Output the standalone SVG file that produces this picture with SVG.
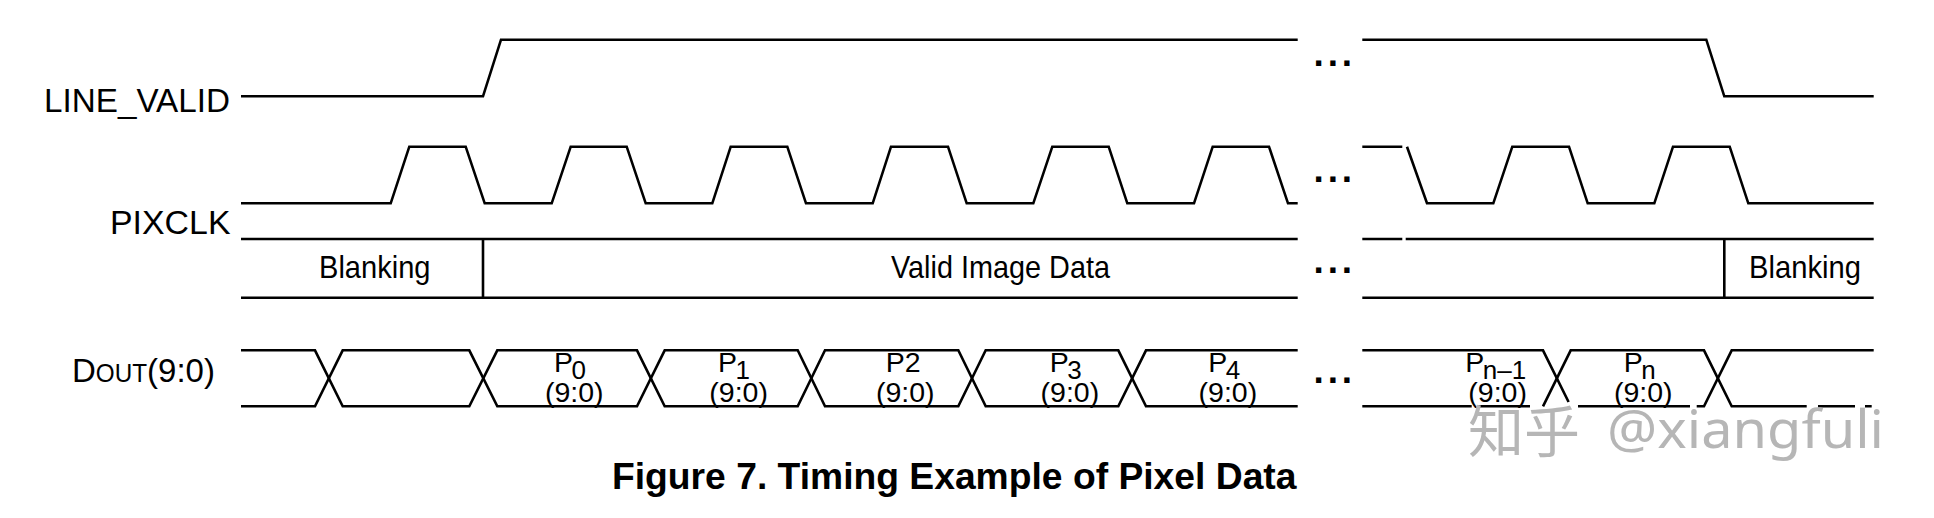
<svg xmlns="http://www.w3.org/2000/svg" width="1934" height="518" viewBox="0 0 1934 518">
<style>
.w{fill:none;stroke:#000;stroke-width:2.6;stroke-linejoin:miter}
.t{font-family:"Liberation Sans",Arial,sans-serif;fill:#000}
.l{font-size:33.9px}
.b{font-size:30.5px}
.d{font-size:28.5px}
.s{font-size:26px}
.dots{font-family:"Liberation Sans",Arial,sans-serif;font-weight:bold;font-size:37px;letter-spacing:3.9px;fill:#000}
.wm{fill:#b6b6b6}
</style>
<rect width="1934" height="518" fill="#fff"/>
<g id="connectors">
<g id="line-valid-wave">
<path class="w" d="M241 96.3H483L501 39.7H1297.7"/>
<path class="w" d="M1362.3 39.7H1706.3L1724.3 96.3H1873.7"/>
</g>
<g id="pixclk-wave">
<path class="w" d="M241 203.3H390.7L409.3 146.7H465.7L484.7 203.3H551.7L570.7 146.7H626.7L645.7 203.3H712.3L730.7 146.7H787.3L806 203.3H872.7L891 146.7H948L966.7 203.3H1033.3L1052.3 146.7H1108.7L1127.3 203.3H1194L1212.7 146.7H1269L1288 203.3H1297.7"/>
<path class="w" d="M1362.3 146.7H1402.3"/>
<path class="w" d="M1407 146.7L1427 203.3H1493.3L1512.3 146.7H1569L1587.7 203.3H1654.3L1673 146.7H1729.7L1748.3 203.3H1873.7"/>
</g>
<g id="bus-wave">
<path class="w" d="M241 239H1297.7M241 297.7H1297.7M483 239V297.7"/>
<path class="w" d="M1362.3 239H1402.3M1405.7 239H1873.7M1362.3 297.7H1873.7M1724.3 239V297.7"/>
</g>
<g id="dout-wave">
<path class="w" d="M241 350.3H315L342.7 406.3H469.3L497.3 350.3H637L664.7 406.3H797.7L825 350.3H958.3L985.7 406.3H1118.3L1146 350.3H1297.7"/>
<path class="w" d="M241 406.3H315L342.7 350.3H469.3L497.3 406.3H637L664.7 350.3H797.7L825 406.3H958.3L985.7 350.3H1118.3L1146 406.3H1297.7"/>
<path class="w" d="M1362.3 350.3H1543L1568.6 402"/>
<path class="w" d="M1543 406.3L1570.7 350.3H1704L1731.7 406.3H1806.7M1818 406.3H1855M1865 406.3H1871.7"/>
<path class="w" d="M1362.3 406.3H1471.7M1478 406.3H1530M1578 406.3H1690M1696.7 406.3H1704L1731.7 350.3H1873.7"/>
</g>
</g>
<g id="label-line-valid"><text class="t l" x="44" y="111.7" textLength="186" lengthAdjust="spacingAndGlyphs">LINE_VALID</text></g>
<g id="label-pixclk"><text class="t l" x="110" y="234.3" textLength="120.5" lengthAdjust="spacingAndGlyphs">PIXCLK</text></g>
<g id="label-dout"><text class="t" font-size="34" x="72" y="382.3" textLength="143" lengthAdjust="spacingAndGlyphs">D<tspan font-size="25">OUT</tspan>(9:0)</text></g>
<g id="bus-blanking-left"><text class="t b" x="319" y="277.7" textLength="111.5" lengthAdjust="spacingAndGlyphs">Blanking</text></g>
<g id="bus-valid"><text class="t b" x="891" y="277.7" textLength="219" lengthAdjust="spacingAndGlyphs">Valid Image Data</text></g>
<g id="bus-blanking-right"><text class="t b" x="1749" y="277.7" textLength="112" lengthAdjust="spacingAndGlyphs">Blanking</text></g>
<g id="p0"><text class="t d" x="554" y="372.3">P<tspan class="s" dx="-1.5" dy="6.5">0</tspan></text><text class="t d" x="545" y="402.3">(9:0)</text></g>
<g id="p1"><text class="t d" x="718" y="372.3">P<tspan class="s" dx="-1.5" dy="6.5">1</tspan></text><text class="t d" x="709.3" y="402.3">(9:0)</text></g>
<g id="p2"><text class="t d" x="885.7" y="372.3">P2</text><text class="t d" x="876" y="402.3">(9:0)</text></g>
<g id="p3"><text class="t d" x="1049.7" y="372.3">P<tspan class="s" dx="-1.5" dy="6.5">3</tspan></text><text class="t d" x="1040.6" y="402.3">(9:0)</text></g>
<g id="p4"><text class="t d" x="1208.3" y="372.3">P<tspan class="s" dx="-1.5" dy="6.5">4</tspan></text><text class="t d" x="1198.6" y="402.3">(9:0)</text></g>
<g id="pn-1"><text class="t d" x="1465.3" y="372.3">P<tspan class="s" dx="-1.5" dy="6.5">n–1</tspan></text><text class="t d" x="1468.3" y="402.3">(9:0)</text></g>
<g id="pn"><text class="t d" x="1623.7" y="372.3">P<tspan class="s" dx="-1.5" dy="6.5">n</tspan></text><text class="t d" x="1614" y="402.3">(9:0)</text></g>
<g id="ellipses">
<text class="dots" x="1313.5" y="66">...</text>
<text class="dots" x="1313.5" y="181.7">...</text>
<text class="dots" x="1313.5" y="273.3">...</text>
<text class="dots" x="1313.5" y="383.3">...</text>
</g>
<g id="caption"><text class="t" x="612" y="489.3" font-weight="bold" font-size="36.5px" textLength="684.5" lengthAdjust="spacingAndGlyphs">Figure 7. Timing Example of Pixel Data</text></g>
<g id="watermark">
<text class="wm" x="1468" y="452" font-size="56px" font-family="'Noto Sans CJK SC',sans-serif">知乎</text>
<text class="wm" x="1607" y="448" font-size="52px" font-family="'Noto Sans','Liberation Sans',sans-serif" textLength="277" lengthAdjust="spacingAndGlyphs">@xiangfuli</text>
</g>
</svg>
